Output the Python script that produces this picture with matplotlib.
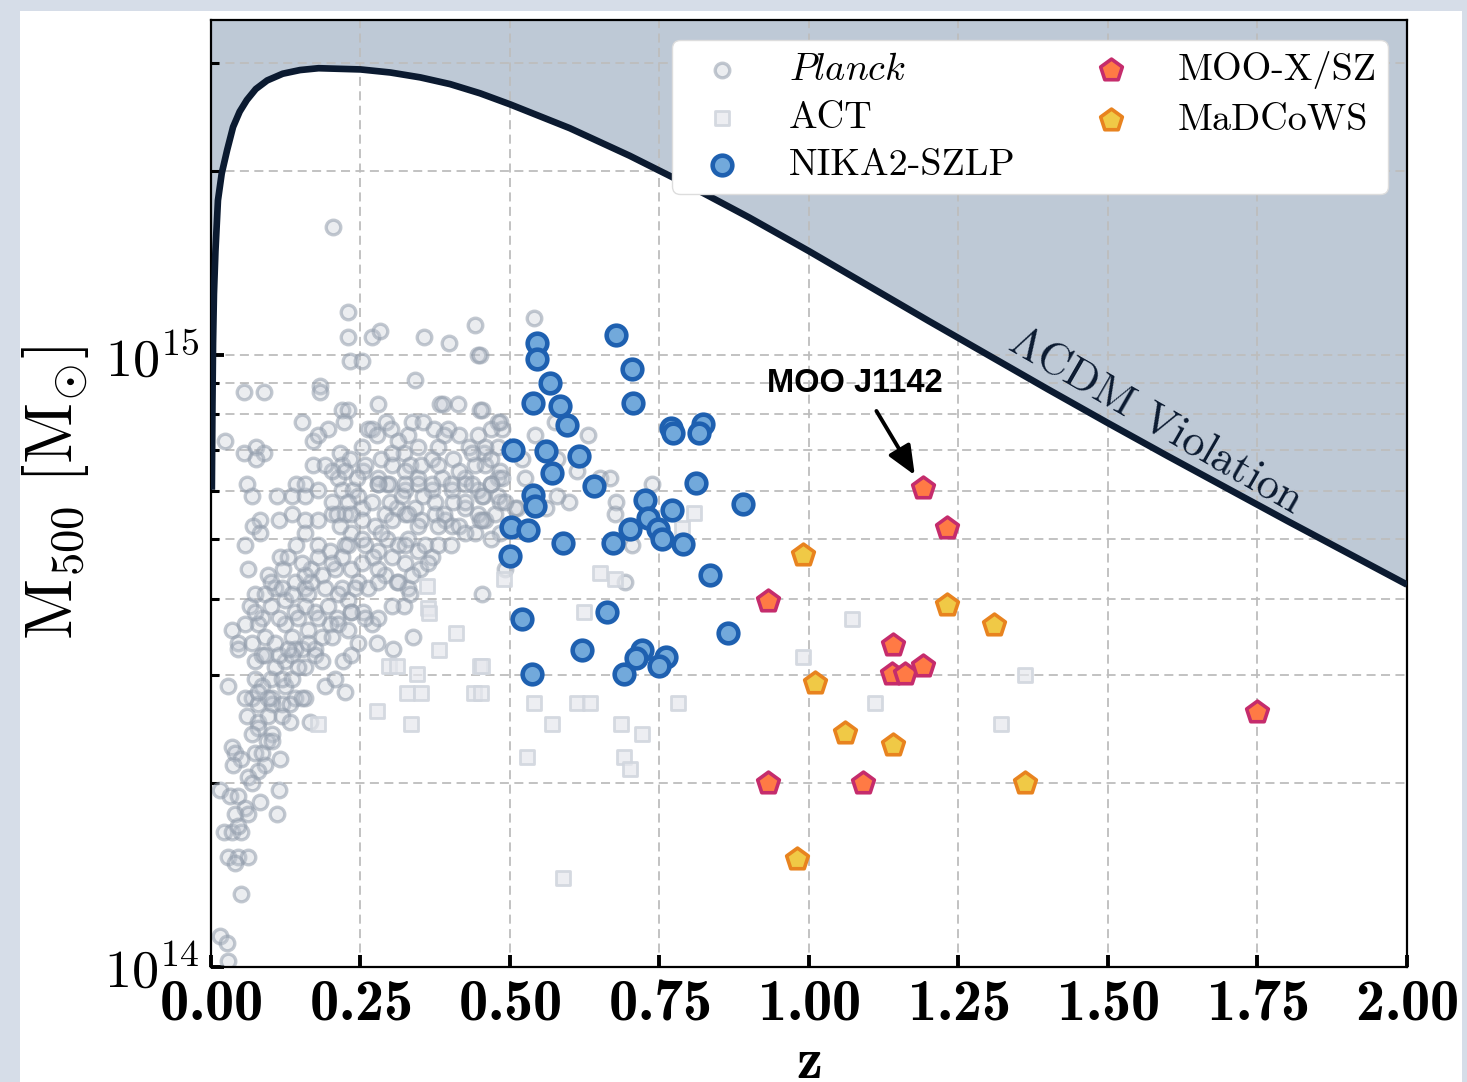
import numpy as np
import matplotlib
matplotlib.use("Agg")
import matplotlib.pyplot as plt
from matplotlib.patches import Rectangle
from matplotlib.ticker import LogLocator, NullFormatter, MultipleLocator

plt.rcParams.update({
    "font.family": "serif",
    "font.serif": ["cmr10"],
    "mathtext.fontset": "cm",
    "axes.formatter.use_mathtext": True,
    "axes.unicode_minus": False,
})

# Planck clusters: redshift and log10(M500 / Msun)
planck_z = [
    0.204, 0.229, 0.229, 0.270, 0.282, 0.356, 0.398, 0.442, 0.447, 0.232,
    0.253, 0.341, 0.056, 0.089, 0.183, 0.183, 0.152, 0.196, 0.219, 0.229,
    0.223, 0.280, 0.293, 0.383, 0.388, 0.413, 0.450, 0.480, 0.486, 0.469,
    0.540, 0.542, 0.023, 0.056, 0.076, 0.089, 0.075, 0.171, 0.171, 0.263,
    0.269, 0.277, 0.301, 0.330, 0.337, 0.355, 0.373, 0.397, 0.389, 0.380,
    0.447, 0.432, 0.457, 0.480, 0.216, 0.219, 0.233, 0.284, 0.302, 0.322,
    0.333, 0.369, 0.405, 0.459, 0.525, 0.060, 0.143, 0.213, 0.255, 0.280,
    0.294, 0.347, 0.386, 0.425, 0.480, 0.450, 0.453, 0.483, 0.458, 0.520,
    0.483, 0.578, 0.612, 0.651, 0.667, 0.678, 0.737, 0.598, 0.578, 0.561,
    0.676, 0.704, 0.692, 0.575, 0.631, 0.453, 0.492, 0.483, 0.455, 0.483,
    0.450, 0.511, 0.068, 0.110, 0.136, 0.157, 0.179, 0.219, 0.238, 0.246,
    0.280, 0.297, 0.324, 0.347, 0.369, 0.403, 0.425, 0.447, 0.469, 0.480,
    0.508, 0.082, 0.071, 0.113, 0.135, 0.157, 0.179, 0.202, 0.224, 0.230,
    0.252, 0.274, 0.291, 0.311, 0.324, 0.341, 0.352, 0.375, 0.391, 0.403,
    0.425, 0.447, 0.458, 0.442, 0.475, 0.057, 0.082, 0.115, 0.143, 0.157,
    0.179, 0.199, 0.224, 0.235, 0.258, 0.280, 0.294, 0.313, 0.330, 0.347,
    0.358, 0.369, 0.380, 0.062, 0.096, 0.121, 0.141, 0.157, 0.168, 0.185,
    0.207, 0.219, 0.235, 0.246, 0.263, 0.271, 0.291, 0.311, 0.324, 0.330,
    0.350, 0.363, 0.065, 0.074, 0.085, 0.107, 0.124, 0.141, 0.163, 0.174,
    0.196, 0.210, 0.230, 0.235, 0.255, 0.269, 0.322, 0.333, 0.035, 0.046,
    0.046, 0.079, 0.090, 0.107, 0.124, 0.135, 0.152, 0.163, 0.174, 0.185,
    0.199, 0.213, 0.246, 0.277, 0.305, 0.338, 0.074, 0.085, 0.107, 0.124,
    0.141, 0.157, 0.174, 0.191, 0.221, 0.235, 0.207, 0.224, 0.029, 0.074,
    0.068, 0.102, 0.124, 0.141, 0.157, 0.079, 0.118, 0.102, 0.132, 0.152,
    0.060, 0.079, 0.096, 0.118, 0.132, 0.166, 0.079, 0.102, 0.068, 0.093,
    0.035, 0.040, 0.074, 0.085, 0.102, 0.115, 0.051, 0.037, 0.090, 0.079,
    0.062, 0.068, 0.015, 0.032, 0.046, 0.113, 0.110, 0.082, 0.057, 0.040,
    0.062, 0.021, 0.035, 0.051, 0.046, 0.029, 0.046, 0.062, 0.040, 0.050,
    0.015, 0.026, 0.028,
    0.202, 0.210, 0.235, 0.216, 0.252, 0.269, 0.299, 0.319, 0.330, 0.355,
    0.375, 0.389, 0.405, 0.414, 0.380, 0.347, 0.302, 0.285, 0.252, 0.230,
    0.219, 0.252, 0.280, 0.302, 0.324, 0.336, 0.313, 0.280, 0.241, 0.213,
    0.191, 0.168, 0.157, 0.179, 0.202, 0.152, 0.129, 0.101, 0.090, 0.118,
    0.135, 0.157, 0.179, 0.146, 0.113, 0.101, 0.074, 0.057, 0.068, 0.090,
    0.113, 0.135, 0.101, 0.085, 0.118, 0.135, 0.096, 0.057, 0.079, 0.146,
    0.129, 0.163, 0.185, 0.202, 0.230, 0.235, 0.258, 0.280, 0.302, 0.402,
    0.425, 0.453, 0.469, 0.492, 0.453, 0.425,
    0.258, 0.244, 0.302, 0.324, 0.352, 0.380, 0.414, 0.441, 0.469, 0.486,
    0.202, 0.224, 0.157, 0.280, 0.324, 0.369, 0.402, 0.436, 0.469, 0.252,
    0.313, 0.347, 0.414, 0.436, 0.179, 0.191,
]
planck_logm = [
    15.21, 15.07, 15.03, 15.03, 15.04, 15.03, 15.02, 15.05, 15.00, 14.99,
    14.99, 14.96, 14.94, 14.94, 14.95, 14.94, 14.89, 14.88, 14.91, 14.91,
    14.89, 14.92, 14.89, 14.92, 14.92, 14.92, 14.91, 14.89, 14.88, 14.88,
    15.06, 14.87, 14.86, 14.84, 14.85, 14.84, 14.83, 14.86, 14.82, 14.88,
    14.88, 14.87, 14.88, 14.87, 14.89, 14.89, 14.88, 14.88, 14.87, 14.85,
    14.87, 14.85, 14.84, 14.85, 14.84, 14.82, 14.83, 14.83, 14.82, 14.84,
    14.82, 14.83, 14.83, 14.82, 14.80, 14.79, 14.79, 14.80, 14.81, 14.80,
    14.79, 14.80, 14.80, 14.80, 14.80, 15.00, 14.91, 14.89, 14.85, 14.83,
    14.81, 14.83, 14.81, 14.80, 14.80, 14.76, 14.79, 14.76, 14.77, 14.75,
    14.74, 14.69, 14.63, 14.89, 14.87, 14.61, 14.65, 14.71, 14.77, 14.76,
    14.73, 14.75, 14.77, 14.77, 14.77, 14.77, 14.78, 14.78, 14.78, 14.77,
    14.79, 14.79, 14.78, 14.79, 14.78, 14.78, 14.79, 14.78, 14.79, 14.77,
    14.75, 14.73, 14.72, 14.73, 14.74, 14.73, 14.73, 14.74, 14.74, 14.76,
    14.75, 14.72, 14.74, 14.75, 14.74, 14.75, 14.73, 14.74, 14.73, 14.72,
    14.75, 14.74, 14.73, 14.71, 14.74, 14.69, 14.71, 14.67, 14.69, 14.71,
    14.69, 14.68, 14.69, 14.71, 14.69, 14.68, 14.70, 14.69, 14.70, 14.68,
    14.69, 14.67, 14.69, 14.65, 14.64, 14.65, 14.63, 14.62, 14.65, 14.64,
    14.65, 14.62, 14.65, 14.63, 14.62, 14.67, 14.64, 14.63, 14.66, 14.62,
    14.65, 14.66, 14.59, 14.61, 14.57, 14.62, 14.60, 14.58, 14.61, 14.58,
    14.59, 14.57, 14.60, 14.58, 14.58, 14.56, 14.59, 14.61, 14.55, 14.53,
    14.52, 14.56, 14.54, 14.53, 14.56, 14.54, 14.52, 14.55, 14.52, 14.54,
    14.56, 14.56, 14.53, 14.53, 14.52, 14.54, 14.50, 14.51, 14.49, 14.50,
    14.52, 14.49, 14.51, 14.46, 14.50, 14.51, 14.47, 14.45, 14.46, 14.47,
    14.44, 14.44, 14.46, 14.44, 14.44, 14.43, 14.43, 14.43, 14.43, 14.44,
    14.41, 14.40, 14.41, 14.41, 14.40, 14.40, 14.39, 14.38, 14.38, 14.37,
    14.36, 14.35, 14.35, 14.35, 14.37, 14.34, 14.34, 14.33, 14.33, 14.32,
    14.31, 14.30, 14.29, 14.28, 14.28, 14.29, 14.25, 14.27, 14.26, 14.25,
    14.25, 14.22, 14.22, 14.22, 14.23, 14.18, 14.18, 14.18, 14.17, 14.12,
    14.05, 14.04, 14.01,
    14.76, 14.74, 14.74, 14.72, 14.73, 14.76, 14.76, 14.77, 14.74, 14.77,
    14.76, 14.74, 14.76, 14.72, 14.72, 14.72, 14.73, 14.71, 14.70, 14.69,
    14.67, 14.66, 14.65, 14.67, 14.69, 14.64, 14.63, 14.63, 14.62, 14.61,
    14.62, 14.63, 14.64, 14.67, 14.66, 14.66, 14.67, 14.63, 14.61, 14.62,
    14.61, 14.59, 14.57, 14.57, 14.57, 14.59, 14.58, 14.56, 14.53, 14.51,
    14.51, 14.51, 14.47, 14.46, 14.47, 14.47, 14.44, 14.44, 14.45, 14.49,
    14.52, 14.53, 14.50, 14.54, 14.55, 14.58, 14.57, 14.57, 14.59, 14.69,
    14.71, 14.73, 14.70, 14.76, 14.77, 14.76,
    14.82, 14.80, 14.84, 14.81, 14.82, 14.82, 14.81, 14.82, 14.83, 14.80,
    14.81, 14.81, 14.79, 14.79, 14.79, 14.79, 14.79, 14.79, 14.79, 14.85,
    14.86, 14.85, 14.87, 14.84, 14.87, 14.82,
]

# ACT clusters: redshift and M500 in 1e14 Msun
act_z = [
    0.361, 0.490, 0.363, 0.364, 0.409, 0.382, 0.298, 0.311, 0.345, 0.450,
    0.328, 0.351, 0.440, 0.277, 0.334, 0.179, 0.529, 0.651, 0.676, 0.623,
    0.787, 0.807, 0.541, 0.612, 0.634, 0.781, 0.570, 0.685, 0.720, 0.691,
    0.700, 0.589, 1.072, 0.990, 1.111, 1.361, 1.321, 0.454, 0.452,
]
act_m = [
    4.19, 4.31, 3.86, 3.79, 3.51, 3.30, 3.10, 3.10, 3.01, 3.10,
    2.80, 2.80, 2.80, 2.62, 2.50, 2.50, 2.20, 4.40, 4.31, 3.80,
    5.22, 5.52, 2.70, 2.70, 2.70, 2.70, 2.50, 2.50, 2.40, 2.20,
    2.11, 1.40, 3.70, 3.21, 2.70, 3.00, 2.50, 3.10, 2.80,
]

# NIKA2-SZLP sample
nika_z = [
    0.546, 0.546, 0.677, 0.704, 0.567, 0.539, 0.584, 0.705, 0.595, 0.769,
    0.773, 0.822, 0.816, 0.505, 0.560, 0.615, 0.570, 0.641, 0.811, 0.889,
    0.539, 0.542, 0.725, 0.771, 0.502, 0.530, 0.588, 0.701, 0.731, 0.748,
    0.754, 0.790, 0.673, 0.500, 0.835, 0.520, 0.663, 0.865, 0.620, 0.721,
    0.710, 0.761, 0.750, 0.537, 0.691,
]
nika_m = [
    10.47, 9.84, 10.78, 9.51, 8.99, 8.34, 8.25, 8.34, 7.68, 7.59,
    7.45, 7.71, 7.45, 7.01, 6.98, 6.84, 6.41, 6.11, 6.18, 5.72,
    5.90, 5.67, 5.79, 5.58, 5.24, 5.18, 4.94, 5.19, 5.42, 5.19,
    5.00, 4.91, 4.94, 4.70, 4.38, 3.71, 3.81, 3.51, 3.30, 3.30,
    3.20, 3.21, 3.10, 3.01, 3.01,
]

# MOO-X/SZ and MaDCoWS high-redshift clusters
moo_z = [1.190, 1.231, 0.931, 1.141, 1.139, 1.160, 1.190, 0.931, 1.090, 1.749]
moo_m = [6.06, 5.21, 3.97, 3.36, 3.01, 3.01, 3.11, 2.00, 2.00, 2.61]
mad_z = [0.990, 1.231, 1.310, 1.010, 1.061, 1.141, 1.361, 0.980]
mad_m = [4.72, 3.91, 3.62, 2.91, 2.41, 2.31, 2.00, 1.50]

# LCDM exclusion curve: redshift and log10(M500 / Msun)
curve_z = [
    0.0015, 0.0025, 0.0035, 0.005, 0.0075, 0.0117, 0.018, 0.027, 0.037, 0.048,
    0.060, 0.075, 0.094, 0.12, 0.149, 0.18, 0.25, 0.30, 0.35, 0.40,
    0.45, 0.50, 0.60, 0.70, 0.80, 0.90, 1.00, 1.10, 1.20, 1.30,
    1.40, 1.50, 1.60, 1.70, 1.80, 1.90, 2.00,
]
curve_logm = [
    14.78, 14.92, 15.02, 15.10, 15.17, 15.253, 15.297, 15.335, 15.373, 15.398,
    15.417, 15.435, 15.449, 15.460, 15.466, 15.469, 15.467, 15.462, 15.454, 15.443,
    15.428, 15.410, 15.371, 15.326, 15.277, 15.225, 15.170, 15.113, 15.056, 15.000,
    14.944, 14.889, 14.835, 14.782, 14.729, 14.677, 14.625,
]

J1142 = (1.190, 6.06)

fig = plt.figure(figsize=(14.67, 10.82), dpi=100, facecolor="#d6dde8")
# white sheet behind the plot
fig.patches.append(Rectangle((20 / 1467, 0), 1442 / 1467, 1071 / 1082,
                             transform=fig.transFigure, facecolor="white",
                             edgecolor="none", zorder=-5))
ax = fig.add_axes([0.1438, 0.1063, 0.8153, 0.8752])

cz = np.array(curve_z)
cm = 10 ** np.array(curve_logm)
ax.fill_between(cz, cm, 1e17, color="#bec9d6", lw=0, zorder=0.2)
ax.plot(cz, cm, color="#0b1a30", lw=4.8, solid_capstyle="butt",
        solid_joinstyle="round", zorder=4)

ax.scatter(planck_z, 10 ** np.array(planck_logm), s=110, marker="o",
           facecolor=(0.74, 0.77, 0.81, 0.30), edgecolor=(0.57, 0.61, 0.67, 0.55),
           lw=2.4, zorder=1, label=r"$\mathit{Planck}$")
ax.scatter(act_z, np.array(act_m) * 1e14, s=95, marker="s",
           facecolor=(0.90, 0.91, 0.93, 0.7), edgecolor=(0.82, 0.84, 0.87, 0.9),
           lw=2.0, zorder=1.2, label="ACT")
ax.scatter(nika_z, np.array(nika_m) * 1e14, s=200, marker="o",
           facecolor="#72a9db", edgecolor="#1e60b0", lw=3.3, zorder=3,
           label="NIKA2-SZLP")
ax.scatter(moo_z, np.array(moo_m) * 1e14, s=270, marker="p",
           facecolor="#ff7a45", edgecolor="#c52c6c", lw=2.6, zorder=3.2,
           label="MOO-X/SZ")
ax.scatter(mad_z, np.array(mad_m) * 1e14, s=270, marker="p",
           facecolor="#f0c946", edgecolor="#e8831f", lw=2.6, zorder=3.1,
           label="MaDCoWS")

ax.annotate("MOO J1142", xy=(J1142[0], J1142[1] * 1e14), xytext=(1.077, 9.0e14),
            ha="center", va="center", fontsize=23.5, fontweight="bold",
            fontfamily="Liberation Sans", zorder=6,
            arrowprops=dict(arrowstyle="-|>,head_length=0.75,head_width=0.32",
                            color="black", lw=2.8, shrinkA=8, shrinkB=11,
                            relpos=(0.58, 0.0)))

ax.text(1.58, 7.78e14, r"$\Lambda$CDM Violation", rotation=-30,
        rotation_mode="anchor", ha="center", va="center",
        fontsize=32, color="#0b1a30", zorder=6)

ax.set_xlim(0, 2.0)
ax.set_yscale("log")
ax.set_ylim(1e14, 3.53e15)
ax.xaxis.set_major_locator(MultipleLocator(0.25))
ax.yaxis.set_major_locator(LogLocator(base=10))
ax.yaxis.set_minor_locator(LogLocator(base=10, subs=np.arange(2, 10)))
ax.yaxis.set_minor_formatter(NullFormatter())

ax.set_axisbelow(True)
ax.grid(True, which="major", axis="both", ls=(0, (5, 3)), color="#bdbdbd", lw=1.3)
ax.grid(True, which="minor", axis="y", ls=(0, (5, 3)), color="#bdbdbd", lw=1.3)

ax.tick_params(which="major", direction="in", length=9, width=2.8, colors="black",
               top=False, right=False)
ax.tick_params(which="minor", direction="in", length=6, width=2.2, top=False, right=False)
ax.tick_params(axis="x", labelsize=42, labelfontfamily="cmb10", pad=8)
ax.tick_params(axis="y", labelsize=39, pad=8)
for sp in ax.spines.values():
    sp.set_linewidth(1.6)

ax.set_xlabel("z", fontsize=42, fontfamily="cmb10", labelpad=4)
ax.set_ylabel(r"$\mathrm{M_{500}\ [M_{\odot}]}$", fontsize=48, labelpad=10)

leg = ax.legend(loc="upper right", bbox_to_anchor=(1388 / 1467, 1 - 40 / 1082),
                bbox_transform=fig.transFigure, borderaxespad=0, ncol=2,
                fontsize=27.5, frameon=True, fancybox=True, framealpha=1.0,
                edgecolor="#dddddd", scatterpoints=1, handletextpad=0.75,
                columnspacing=1.5, labelspacing=0.36, borderpad=0.3)
leg.set_zorder(7)

fig.savefig("out.png", dpi=100, facecolor=fig.get_facecolor())
